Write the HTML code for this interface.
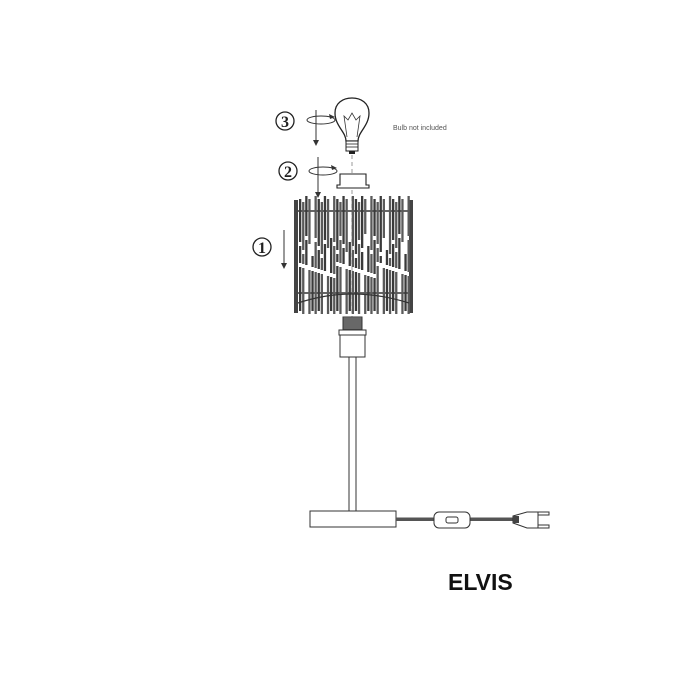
<!DOCTYPE html>
<html><head><meta charset="utf-8"><style>
html,body{margin:0;padding:0;background:#fff;width:700px;height:700px;overflow:hidden}
svg{display:block}
</style></head><body>
<svg id="s" width="700" height="700" viewBox="0 0 700 700" xmlns="http://www.w3.org/2000/svg" font-family="Liberation Serif, serif">
<circle cx="285" cy="121" r="9" fill="none" stroke="#222" stroke-width="1.3"/>
<text x="285" y="127" font-size="16" font-weight="bold" text-anchor="middle" fill="#222">3</text>
<circle cx="288" cy="171" r="9" fill="none" stroke="#222" stroke-width="1.3"/>
<text x="288" y="177" font-size="16" font-weight="bold" text-anchor="middle" fill="#222">2</text>
<circle cx="262" cy="247" r="9" fill="none" stroke="#222" stroke-width="1.3"/>
<text x="262" y="253" font-size="16" font-weight="bold" text-anchor="middle" fill="#222">1</text>
<g fill="none" stroke="#333" stroke-width="1">
<ellipse cx="321" cy="120" rx="14" ry="4"/>
<line x1="316" y1="110" x2="316" y2="142"/>
<ellipse cx="323" cy="171" rx="14" ry="4"/>
<line x1="318" y1="157" x2="318" y2="194"/>
<line x1="284" y1="230" x2="284" y2="265"/>
<line x1="352" y1="155" x2="352" y2="330" stroke-dasharray="4 3" stroke="#999"/>
</g>
<g fill="#333">
<polygon points="313,140 319,140 316,146"/>
<polygon points="315,192 321,192 318,198"/>
<polygon points="281,263 287,263 284,269"/>
<polygon points="329,114 335,117 330,119"/>
<polygon points="331,165 337,168 332,170"/>
</g>
<path d="M346,141 C346,132 335,126 335,113 C335,103 343,98 352,98 C361,98 369,103 369,113 C369,126 358,132 358,141 Z" fill="#fff" stroke="#222" stroke-width="1.3"/>
<path d="M347,137 L344,116 L348,120 L352,113 L356,120 L360,116 L357,137" fill="none" stroke="#333" stroke-width="0.8"/>
<rect x="346" y="141" width="12" height="10" fill="#fff" stroke="#222"/>
<g stroke="#222" stroke-width="0.8"><line x1="346" y1="144" x2="358" y2="144"/><line x1="346" y1="147" x2="358" y2="147"/></g>
<rect x="349" y="151" width="6" height="3" fill="#222"/>
<text x="393" y="130" font-family="Liberation Sans, sans-serif" font-size="7" fill="#555">Bulb not included</text>
<path d="M340,174 H366 V185 H369 V188 H337 V185 H340 Z" fill="#fff" stroke="#222" stroke-width="1.1"/>
<g id="shade"></g>
<rect x="343" y="317" width="19" height="13" fill="#888" stroke="#333"/>
<g stroke="#333" stroke-width="0.7" id="thr"></g>
<rect x="339" y="330" width="27" height="5" fill="#fff" stroke="#333"/>
<rect x="340" y="335" width="25" height="22" fill="#fff" stroke="#333"/>
<rect x="349" y="357" width="7" height="154" fill="#fff" stroke="#333"/>
<rect x="310" y="511" width="86" height="16" fill="#fff" stroke="#333"/>
<rect x="396" y="517.5" width="40" height="3.5" fill="#555"/>
<rect x="469" y="517.5" width="45" height="3.5" fill="#555"/>
<rect x="434" y="512" width="36" height="16" rx="5" fill="#fff" stroke="#333"/>
<rect x="446" y="517" width="12" height="6" rx="2" fill="#fff" stroke="#333"/>
<path d="M513,516 L527,512 L538,512 L538,528 L527,528 L513,523 Z" fill="#fff" stroke="#333"/>
<rect x="513" y="516" width="6" height="7" fill="#444"/>
<rect x="538" y="512" width="11" height="3" fill="#fff" stroke="#333"/>
<rect x="538" y="525" width="11" height="3" fill="#fff" stroke="#333"/>
<text x="448" y="590" font-family="Liberation Sans, sans-serif" font-size="23" font-weight="bold" fill="#111">ELVIS</text>
</svg>
<script>
var g=document.getElementById('shade'),h='';
h+='<rect x="294" y="200" width="4" height="113" fill="#444"/><rect x="409" y="200" width="4" height="113" fill="#444"/>';
h+='<rect x="298" y="210" width="111" height="2" fill="#666"/><rect x="298" y="292" width="111" height="2" fill="#666"/>';
var n=0;
for(var x=299;x<408;x+=3.1){n++;
 var a=(n*37)%11, b=(n*53)%13;
 var segs=[[196+(n%3)*3, 234+a*2],[238+a*2,262+b],[266+b,314-(n%2)*3]];
 for(var i=0;i<segs.length;i++){ if((n+i)%6==5)continue;
  h+='<rect x="'+x.toFixed(1)+'" y="'+segs[i][0]+'" width="2.3" height="'+(segs[i][1]-segs[i][0])+'" fill="'+(n%2?'#3a3a3a':'#5a5a5a')+'"/>';}
}
h+='<path d="M298,303 Q352,285 409,303" fill="none" stroke="#333" stroke-width="1.2"/>';
g.innerHTML=h;
var t=document.getElementById('thr'),s='';
for(var y=319;y<330;y+=2)s+='<line x1="343" y1="'+y+'" x2="362" y2="'+y+'"/>';
t.innerHTML=s;
</script>
</body></html>
